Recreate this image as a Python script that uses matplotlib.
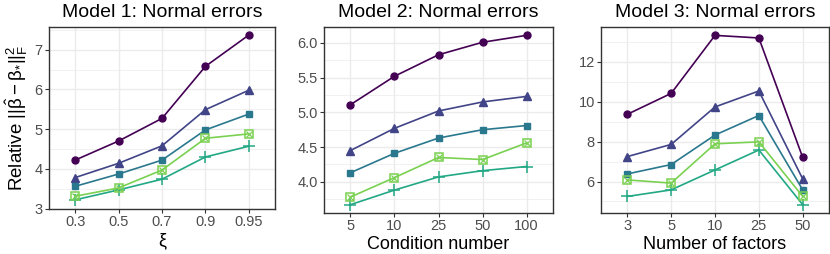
import matplotlib
matplotlib.use("Agg")
import matplotlib.pyplot as plt
from matplotlib.ticker import MultipleLocator
import numpy as np

plt.rcParams['font.family'] = ['Liberation Sans', 'DejaVu Sans']
plt.rcParams['mathtext.fontset'] = 'custom'
plt.rcParams['mathtext.rm'] = 'Liberation Sans'
plt.rcParams['mathtext.it'] = 'Liberation Sans'
plt.rcParams['mathtext.bf'] = 'Liberation Sans:bold'

# ---- data ----
titles = ["Model 1: Normal errors", "Model 2: Normal errors", "Model 3: Normal errors"]
xlabels = ["ξ", "Condition number", "Number of factors"]
xticks1 = ["0.3", "0.5", "0.7", "0.9", "0.95"]
xticks2 = ["5", "10", "25", "50", "100"]
xticks3 = ["3", "5", "10", "25", "50"]

m1_circle   = [4.22, 4.70, 5.27, 6.58, 7.37]
m1_triangle = [3.78, 4.14, 4.58, 5.49, 5.98]
m1_square   = [3.56, 3.87, 4.22, 4.98, 5.38]
m1_sqcross  = [3.31, 3.52, 3.97, 4.77, 4.88]
m1_plus     = [3.22, 3.47, 3.74, 4.30, 4.57]

m2_circle   = [5.11, 5.52, 5.83, 6.01, 6.11]
m2_triangle = [4.45, 4.77, 5.02, 5.15, 5.23]
m2_square   = [4.13, 4.41, 4.63, 4.75, 4.81]
m2_sqcross  = [3.78, 4.06, 4.35, 4.32, 4.56]
m2_plus     = [3.67, 3.88, 4.07, 4.16, 4.22]

m3_circle   = [9.37, 10.42, 13.33, 13.20, 7.21]
m3_triangle = [7.25, 7.86, 9.74, 10.54, 6.13]
m3_square   = [6.38, 6.85, 8.33, 9.31, 5.58]
m3_sqcross  = [6.08, 5.92, 7.89, 7.99, 5.25]
m3_plus     = [5.25, 5.58, 6.58, 7.58, 4.84]

colors = {"circle": "#440154", "triangle": "#414487", "square": "#2A788E",
          "plus": "#22A884", "sqcross": "#7AD151"}

panels = [
    (xticks1, {"circle": m1_circle, "triangle": m1_triangle, "square": m1_square,
               "plus": m1_plus, "sqcross": m1_sqcross}, (2.99, 7.57), 1, 0.5, None),
    (xticks2, {"circle": m2_circle, "triangle": m2_triangle, "square": m2_square,
               "plus": m2_plus, "sqcross": m2_sqcross}, (3.55, 6.23), 0.5, 0.25, "%.1f"),
    (xticks3, {"circle": m3_circle, "triangle": m3_triangle, "square": m3_square,
               "plus": m3_plus, "sqcross": m3_sqcross}, (4.42, 13.75), 2, 1, None),
]

W, H = 830, 254
fig = plt.figure(figsize=(W / 100, H / 100), dpi=100)
boxes = [(49, 27, 275, 209), (324, 27, 553, 213), (601, 27, 829, 213)]

for i, (ticks, series, ylim, maj, mnr, fmt) in enumerate(panels):
    x0, y0, x1, y1 = boxes[i]
    ax = fig.add_axes([x0 / W, 1 - y1 / H, (x1 - x0) / W, (y1 - y0) / H])
    x = np.arange(1, len(ticks) + 1)
    for name in ["circle", "triangle", "square", "plus", "sqcross"]:
        c = colors[name]
        y = series[name]
        if name == "circle":
            ax.plot(x, y, color=c, lw=1.2, marker="o", ms=5, zorder=3)
        elif name == "triangle":
            ax.plot(x, y, color=c, lw=1.2, marker="^", ms=5.5, zorder=3)
        elif name == "square":
            ax.plot(x, y, color=c, lw=1.2, marker="s", ms=5, zorder=3)
        elif name == "plus":
            ax.plot(x, y, color=c, lw=1.2, marker="+", ms=8, mew=1.1, zorder=3)
        else:
            ax.plot(x, y, color=c, lw=1.2, marker="s", ms=6, mfc="none", mew=1.1, zorder=3)
            ax.plot(x, y, ls="none", color=c, marker="x", ms=4.5, mew=0.9, zorder=3)
    ax.set_xlim(0.4, len(ticks) + 0.6)
    ax.set_ylim(*ylim)
    ax.set_xticks(x)
    ax.set_xticklabels(ticks)
    ax.yaxis.set_major_locator(MultipleLocator(maj))
    ax.yaxis.set_minor_locator(MultipleLocator(mnr))
    if fmt:
        ax.yaxis.set_major_formatter(matplotlib.ticker.FormatStrFormatter(fmt))
    ax.grid(True, which="major", color="#EBEBEB", lw=1.0, zorder=0)
    ax.grid(True, which="minor", axis="y", color="#EBEBEB", lw=0.5, zorder=0)
    ax.set_axisbelow(True)
    for s in ax.spines.values():
        s.set_color("#333333")
        s.set_linewidth(1.0)
    ax.tick_params(axis="both", which="major", length=3, width=0.8, color="#333333",
                   labelsize=10.5, labelcolor="#4D4D4D", pad=1.5)
    ax.tick_params(axis="y", which="minor", length=0)
    ax.set_title(titles[i], fontsize=14, pad=7)
    ax.set_xlabel(xlabels[i], fontsize=13, labelpad=2)
    if i == 0:
        ax.set_ylabel(r"Relative $||\hat{β}-β_{*}||_F^2$", fontsize=13.5, labelpad=3)

fig.savefig("out.png", dpi=100)
